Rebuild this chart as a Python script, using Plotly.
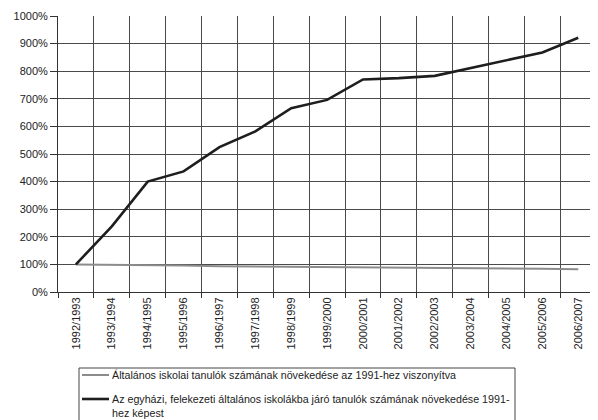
import plotly.graph_objects as go

years = ["1992/1993", "1993/1994", "1994/1995", "1995/1996", "1996/1997",
         "1997/1998", "1998/1999", "1999/2000", "2000/2001", "2001/2002",
         "2002/2003", "2003/2004", "2004/2005", "2005/2006", "2006/2007"]

altalanos = [100, 99, 97, 96, 93, 92, 92, 91, 91, 90, 89, 87, 86, 84, 82]
egyhazi = [100, 238, 400, 437, 525, 582, 666, 696, 770, 775, 783, 811, 840, 868, 921]

name1 = "Általános iskolai tanulók számának növekedése az 1991-hez viszonyítva"
name2 = "Az egyházi, felekezeti általános iskolákba járó tanulók számának növekedése 1991-<br>hez képest"

GRAY = "#8c8c8c"
BLACK = "#1e1e1e"

fig = go.Figure()
fig.add_trace(go.Scatter(x=years, y=altalanos, mode="lines", name=name1,
                         line=dict(color=GRAY, width=2), showlegend=False))
fig.add_trace(go.Scatter(x=years, y=egyhazi, mode="lines", name=name2,
                         line=dict(color=BLACK, width=2.6), showlegend=False))

# page pixel positions -> paper coords (plot area on page: x 58..598, y 16..292)
def px_x(p):
    return (p - 58) / 540.0

def px_y(p):
    return (292 - p) / 276.0

shapes = [
    dict(type="rect", xref="paper", yref="paper",
         x0=px_x(79), x1=px_x(515), y0=px_y(368), y1=px_y(430),
         line=dict(color="#444", width=1), fillcolor="rgba(0,0,0,0)", layer="above"),
    dict(type="line", xref="paper", yref="paper",
         x0=px_x(82), x1=px_x(109), y0=px_y(375), y1=px_y(375),
         line=dict(color=GRAY, width=2)),
    dict(type="line", xref="paper", yref="paper",
         x0=px_x(82), x1=px_x(109), y0=px_y(399), y1=px_y(399),
         line=dict(color=BLACK, width=2.6)),
]
annotations = [
    dict(xref="paper", yref="paper", x=px_x(110), y=px_y(375),
         xanchor="left", yanchor="middle", text=name1, showarrow=False,
         align="left", font=dict(size=10.7, color="#222")),
    dict(xref="paper", yref="paper", x=px_x(110), y=px_y(391),
         xanchor="left", yanchor="top", text=name2, showarrow=False,
         align="left", font=dict(size=10.7, color="#222")),
]

# the page body has an 8px margin, so the figure is 8px smaller and shifted
fig.update_layout(
    width=590, height=412,
    margin=dict(l=50, r=0, t=8, b=128),
    paper_bgcolor="white", plot_bgcolor="white",
    font=dict(family="Liberation Sans, Arial, sans-serif", size=11, color="#222"),
    showlegend=False,
    shapes=shapes,
    annotations=annotations,
)
fig.update_xaxes(type="category", range=[-0.5, 14.55], tickson="boundaries",
                 showgrid=True, gridcolor="#4a4a4a", gridwidth=1,
                 ticks="outside", ticklen=5, tickcolor="#333",
                 tickangle=-90, showline=True, linecolor="#333", linewidth=1,
                 tickfont=dict(size=11), automargin=False)
fig.update_yaxes(range=[0, 1000], tickvals=list(range(0, 1001, 100)),
                 ticktext=[f"{v}%" for v in range(0, 1001, 100)],
                 showgrid=True, gridcolor="#4a4a4a", gridwidth=1,
                 ticks="outside", ticklen=7, tickcolor="#333",
                 showline=True, linecolor="#333", linewidth=1,
                 zeroline=False, tickfont=dict(size=11), automargin=False)

fig.write_html("out.html")
